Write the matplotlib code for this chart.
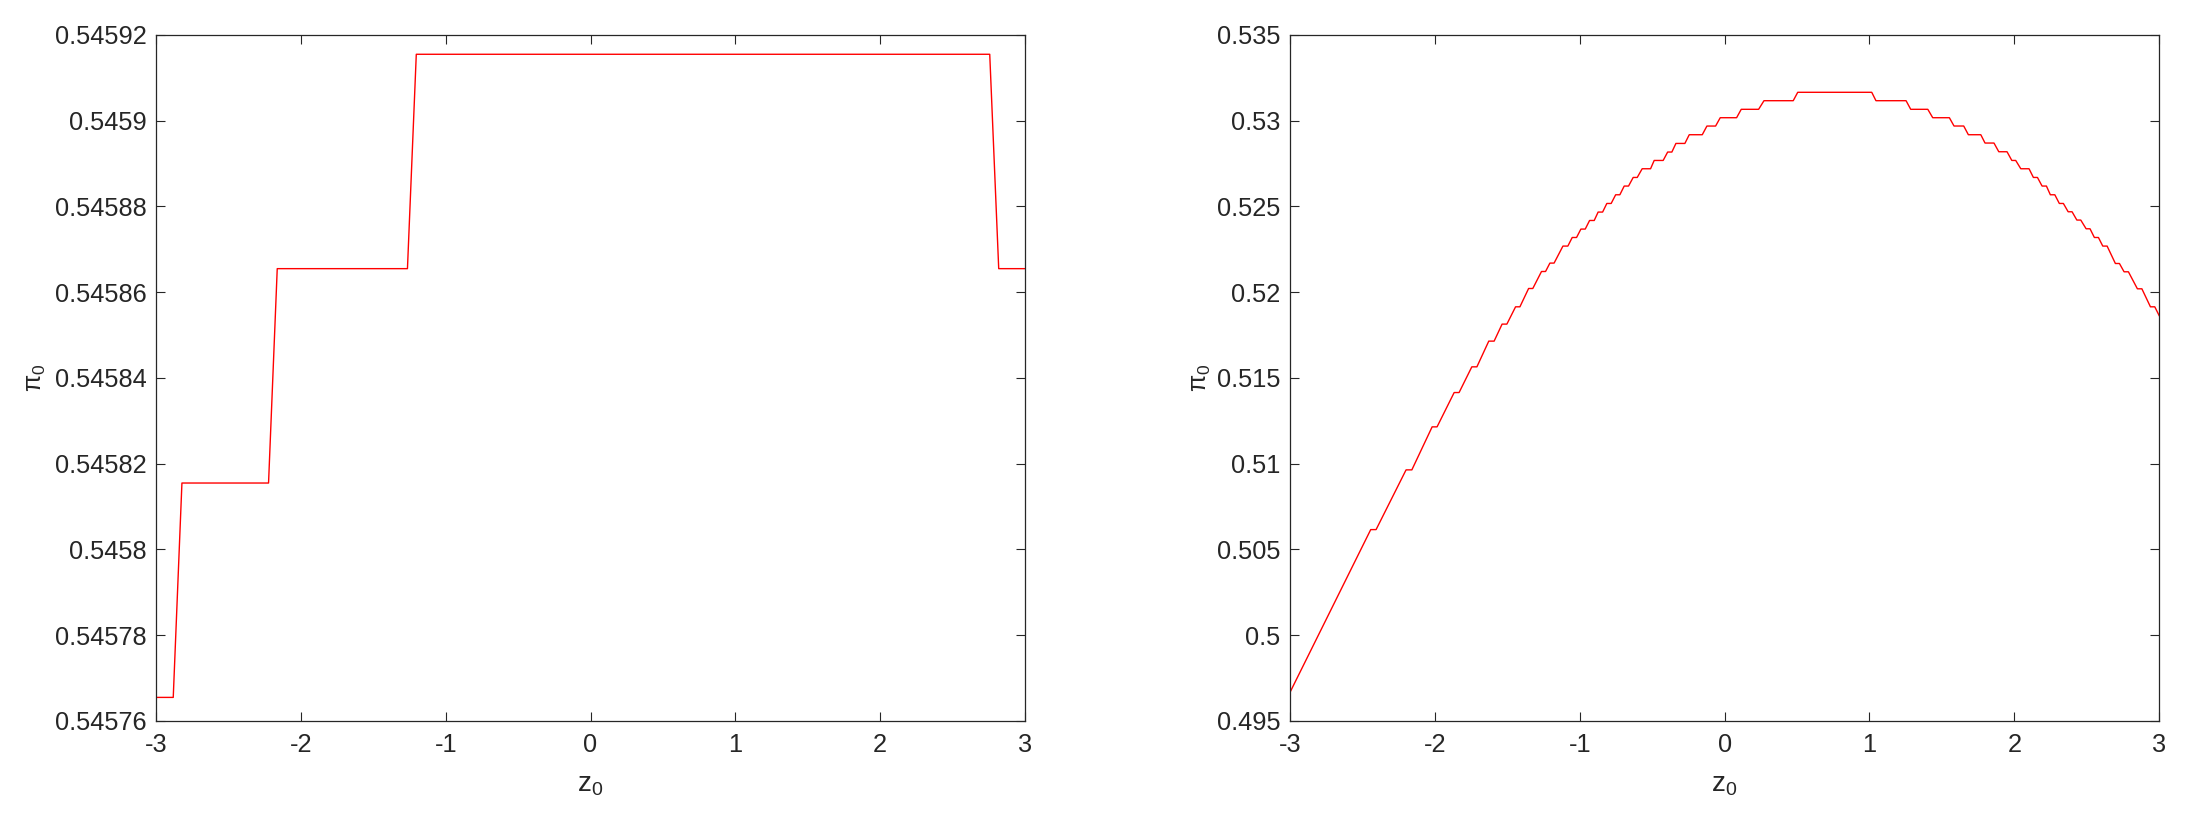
import numpy as np
import matplotlib
matplotlib.use("Agg")
import matplotlib.pyplot as plt
from matplotlib.ticker import FixedLocator, FuncFormatter

plt.rcParams["font.family"] = ["Liberation Sans", "DejaVu Sans"]
plt.rcParams["axes.unicode_minus"] = False
plt.rcParams["mathtext.fontset"] = "custom"
plt.rcParams["mathtext.rm"] = "Liberation Sans"
plt.rcParams["mathtext.it"] = "Liberation Sans:italic"
plt.rcParams["mathtext.default"] = "regular"

# left panel: step profile of pi_0 against z_0 (vertices)
left_z = [-3.0, -2.881, -2.821, -2.223, -2.163, -1.264, -1.203, 2.756, 2.818, 3.0]
left_pi = [0.5457655, 0.5457655, 0.5458155, 0.5458155, 0.5458655, 0.5458655,
           0.5459155, 0.5459155, 0.5458655, 0.5458655]

# right panel: start/end of the curve and the small flat steps along it
right_z_ends = [-3.0, 3.0]
right_pi_ends = [0.496674, 0.518643]
right_flat_start = [-2.443, -2.199, -2.019, -1.867, -1.745, -1.628, -1.536, -1.443, -1.353,
                    -1.264, -1.206, -1.116, -1.052, -0.992, -0.932, -0.873, -0.813, -0.752,
                    -0.693, -0.631, -0.569, -0.486, -0.393, -0.336, -0.244, -0.122, -0.030,
                    0.115, 0.272, 0.505, 1.045, 1.285, 1.437, 1.584, 1.683, 1.798, 1.893,
                    1.983, 2.045, 2.132, 2.192, 2.249, 2.311, 2.372, 2.432, 2.496, 2.553,
                    2.611, 2.698, 2.758, 2.850, 2.940]
right_flat_end = [-2.406, -2.159, -1.985, -1.833, -1.710, -1.591, -1.503, -1.413, -1.324,
                  -1.236, -1.177, -1.082, -1.022, -0.962, -0.900, -0.842, -0.783, -0.723,
                  -0.663, -0.603, -0.511, -0.424, -0.364, -0.274, -0.154, -0.062, 0.083,
                  0.235, 0.474, 1.016, 1.253, 1.403, 1.552, 1.651, 1.769, 1.860, 1.950,
                  2.010, 2.102, 2.160, 2.222, 2.280, 2.339, 2.399, 2.459, 2.523, 2.581,
                  2.641, 2.726, 2.788, 2.881, 2.970]
right_flat_pi = [0.506159, 0.509642, 0.512150, 0.514151, 0.515650, 0.517149, 0.518141,
                 0.519150, 0.520218, 0.521209, 0.521699, 0.522691, 0.523192, 0.523682,
                 0.524184, 0.524674, 0.525176, 0.525683, 0.526191, 0.526693, 0.527200,
                 0.527684, 0.528174, 0.528676, 0.529184, 0.529690, 0.530176, 0.530666,
                 0.531168, 0.531658, 0.531168, 0.530666, 0.530176, 0.529692, 0.529184,
                 0.528699, 0.528192, 0.527684, 0.527200, 0.526693, 0.526191, 0.525683,
                 0.525176, 0.524692, 0.524208, 0.523700, 0.523192, 0.522691, 0.521676,
                 0.521192, 0.520200, 0.519150]

x_ticks = [-3, -2, -1, 0, 1, 2, 3]
left_y_ticks = [0.54576, 0.54578, 0.54580, 0.54582, 0.54584, 0.54586, 0.54588, 0.54590, 0.54592]
right_y_ticks = [0.495, 0.500, 0.505, 0.510, 0.515, 0.520, 0.525, 0.530, 0.535]

# polyline through the flats of the right panel
right_z = np.concatenate([[right_z_ends[0]],
                          np.column_stack([right_flat_start, right_flat_end]).ravel(),
                          [right_z_ends[1]]])
right_pi = np.concatenate([[right_pi_ends[0]],
                           np.repeat(right_flat_pi, 2),
                           [right_pi_ends[1]]])

AX_COL = "#262626"
TICK_FS = 18.3
LABEL_FS = 20


def style_axes(ax, y_ticks, ylab_x):
    ax.set_xlim(-3, 3)
    ax.set_ylim(y_ticks[0], y_ticks[-1])
    ax.xaxis.set_major_locator(FixedLocator(x_ticks))
    ax.yaxis.set_major_locator(FixedLocator(y_ticks))
    ax.xaxis.set_major_formatter(FuncFormatter(lambda v, p: "%g" % round(v, 6)))
    ax.yaxis.set_major_formatter(FuncFormatter(lambda v, p: "%g" % round(v, 6)))
    ax.tick_params(direction="in", length=6.3, width=0.8, color=AX_COL,
                   top=True, right=True, labelsize=TICK_FS, labelcolor=AX_COL)
    ax.tick_params(axis="y", pad=7)
    ax.tick_params(axis="x", pad=9)
    for s in ax.spines.values():
        s.set_color(AX_COL)
        s.set_linewidth(0.9)
    ax.set_xlabel(r"z$_0$", fontsize=LABEL_FS, color=AX_COL)
    ax.xaxis.set_label_coords(0.5, -0.075)
    ax.set_ylabel(r"$\pi_0$", fontsize=18, color=AX_COL, math_fontfamily="cm")
    ax.yaxis.set_label_coords(ylab_x, 0.5)


fig = plt.figure(figsize=(21.88, 8.27), dpi=100)
ax1 = fig.add_axes([0.0713, 0.1282, 0.3972, 0.8295])
ax2 = fig.add_axes([0.5896, 0.1282, 0.3972, 0.8295])

ax1.plot(left_z, left_pi, color="#ff0000", lw=1.0)
style_axes(ax1, left_y_ticks, -0.1245)

ax2.plot(right_z, right_pi, color="#ff0000", lw=1.0)
style_axes(ax2, right_y_ticks, -0.089)

fig.savefig("out.png", dpi=100, facecolor="white")
